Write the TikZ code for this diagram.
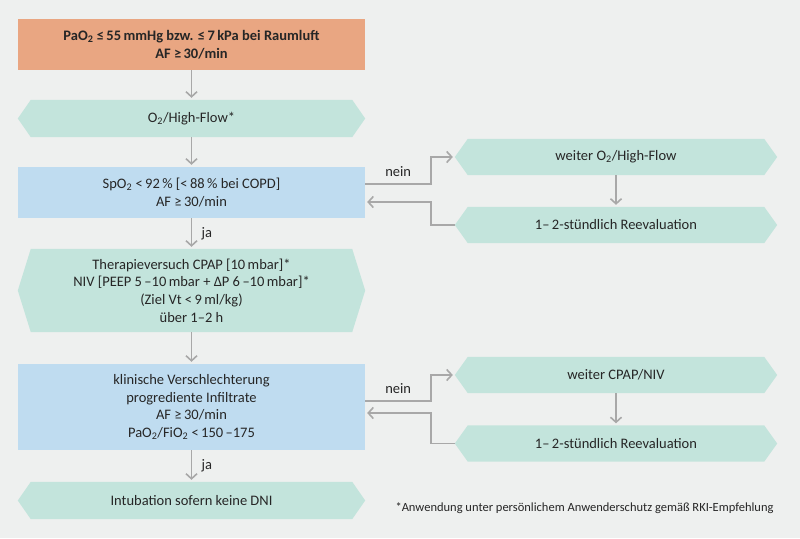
\documentclass[tikz,border=0pt]{standalone}
\usepackage{fontspec}
\setmainfont{Carlito}
\usetikzlibrary{arrows.meta,backgrounds,calc}
\definecolor{bgc}{RGB}{238,240,239}
\definecolor{orng}{RGB}{233,166,130}
\definecolor{tealc}{RGB}{195,228,220}
\definecolor{bluec}{RGB}{191,220,240}
\definecolor{arrc}{RGB}{168,168,168}
\tikzset{
  base/.style={inner sep=0pt, align=center, font=\fontsize{14.5}{17.7}\selectfont, text=black!85},
  rbox/.style={base, minimum width=347pt},
  hexbox/.style={base, minimum width=347pt},
  rhex/.style={base, minimum width=322pt, minimum height=36pt},
  conn/.style={draw=arrc, line width=1.8pt, -{Straight Barb[length=5pt,width=11pt,line width=1.6pt]}, shorten >=2pt},
  lbl/.style={font=\fontsize{14.5}{16}\selectfont, text=black!85},
}
\newcommand{\hexfill}[1]{%
  \fill[tealc] ([xshift=13pt]#1.north west) -- ([xshift=-13pt]#1.north east) -- (#1.east)
    -- ([xshift=-13pt]#1.south east) -- ([xshift=13pt]#1.south west) -- (#1.west) -- cycle;}
\begin{document}
\begin{tikzpicture}[x=1pt,y=-1pt]
\useasboundingbox (0,0) rectangle (800,538);
% left column
\node[rbox, minimum height=51pt, fill=orng, font=\bfseries\fontsize{14.5}{17.7}\selectfont] (top) at (191.5,44.5)
  {PaO\textsubscript{2} ≤\,55\,mmHg bzw. ≤\,7\,kPa bei Raumluft\\AF ≥\,30/min};
\node[hexbox, minimum height=37pt] (o2) at (191.5,118.5) {O\textsubscript{2}/High-Flow*};
\node[rbox, minimum height=51pt, fill=bluec] (spo2) at (191.5,192.5)
  {SpO\textsubscript{2} <\,92\,\% [<\,88\,\% bei COPD]\\AF ≥\,30/min};
\node[hexbox, minimum height=83pt] (ther) at (191.5,290.5)
  {Therapieversuch CPAP [10\,mbar]*\\NIV [PEEP 5\,–10\,mbar + ΔP 6\,–10\,mbar]*\\(Ziel Vt <\,9\,ml/kg)\\über 1–2 h};
\node[rbox, minimum height=86pt, fill=bluec] (klin) at (191.5,407)
  {klinische Verschlechterung\\progrediente Infiltrate\\AF ≥\,30/min\\PaO\textsubscript{2}/FiO\textsubscript{2} <\,150\,–175};
\node[hexbox, minimum height=37pt] (intub) at (191.5,500.5) {Intubation sofern keine DNI};
% right column
\node[rhex] (w1) at (616,157) {weiter O\textsubscript{2}/High-Flow};
\node[rhex] (r1) at (616,225) {1–\,2-stündlich Reevaluation};
\node[rhex] (w2) at (616,375) {weiter CPAP/NIV};
\node[rhex] (r2) at (616,443.5) {1–\,2-stündlich Reevaluation};
\node[anchor=base east, font=\fontsize{12.5}{14}\selectfont, text=black!85] (foot) at (777,511)
  {*Anwendung unter persönlichem Anwenderschutz gemäß RKI-Empfehlung};
\begin{scope}[on background layer]
  \fill[bgc] (0,0) rectangle (800,538);
  \hexfill{o2}\hexfill{ther}\hexfill{intub}\hexfill{w1}\hexfill{r1}\hexfill{w2}\hexfill{r2}
\end{scope}
% connectors
\draw[conn] (top) -- (o2);
\draw[conn] (o2) -- (spo2);
\draw[conn] (spo2) -- node[lbl, right=6pt] (ja1) {ja} (ther);
\draw[conn] (ther) -- (klin);
\draw[conn] (klin) -- node[lbl, right=6pt] (ja2) {ja} (intub);
\draw[conn] (w1) -- (r1);
\draw[conn] (w2) -- (r2);
\draw[conn] ([yshift=8.5pt]spo2.east) -- node[lbl, above=3pt] (n1) {nein} ([yshift=8.5pt,xshift=66pt]spo2.east) |- (w1.west);
\draw[conn] (r1.west) -- ++(-24,0) |- ([yshift=-9.5pt]spo2.east);
\draw[conn] ([yshift=6pt]klin.east) -- node[lbl, above=3pt] (n2) {nein} ([yshift=6pt,xshift=66pt]klin.east) |- (w2.west);
\draw[conn] (r2.west) -- ++(-24,0) |- ([yshift=-6pt]klin.east);
\end{tikzpicture}
\end{document}
